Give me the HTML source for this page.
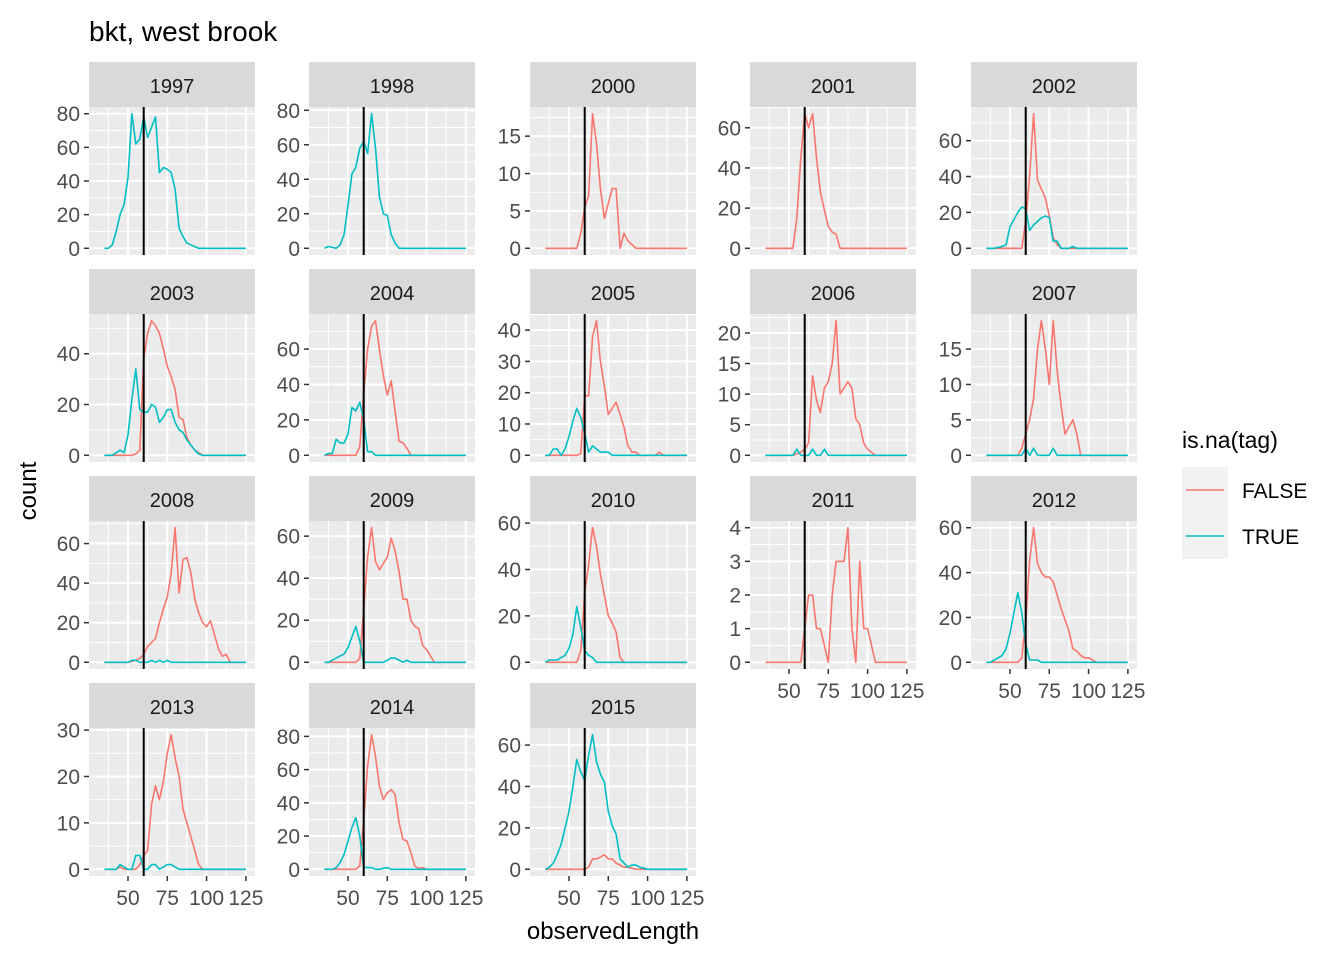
<!DOCTYPE html>
<html><head><meta charset="utf-8"><style>
body{margin:0;background:#fff;}
svg{display:block;font-family:"Liberation Sans",Arial,sans-serif;}
</style></head><body>
<svg id="chart" width="1344" height="960" viewBox="0 0 1344 960">
<rect width="1344" height="960" fill="#fff"/>
<text x="89" y="41" font-size="28" fill="#000">bkt, west brook</text>
<text x="0" y="0" font-size="24" fill="#000" text-anchor="middle" transform="translate(36,491) rotate(-90)">count</text>
<text x="613" y="939" font-size="24" fill="#000" text-anchor="middle">observedLength</text>
<g>
<text x="1182" y="448" font-size="23" fill="#000">is.na(tag)</text>
<rect x="1182" y="467" width="46" height="46" fill="#f2f2f2"/>
<line x1="1186" y1="490" x2="1224" y2="490" stroke="#F8766D" stroke-width="1.6"/>
<rect x="1182" y="513" width="46" height="46" fill="#f2f2f2"/>
<line x1="1186" y1="536" x2="1224" y2="536" stroke="#00BFC4" stroke-width="1.6"/>
<text x="1242" y="498" font-size="21" fill="#000">FALSE</text>
<text x="1242" y="544" font-size="21" fill="#000">TRUE</text>
</g>
<g id="panels"></g>
</svg>
<script>
const years = ["1997","1998","2000","2001","2002","2003","2004","2005","2006","2007","2008","2009","2010","2011","2012","2013","2014","2015"];
const xStart = 35, xStep = 2.5, nBins = 37;
const xTicks = [50,75,100,125];
const xDomain = [25.2,130.8];
const cutoff = 60;
const yTickSteps = [20,20,5,20,20,20,20,10,5,5,20,20,20,1,20,10,20,20];

const t1997 = [0,0,2,10,20,26,42,80,62,65,78,66,72,78,45,48,47,45,35,12,7,3,2,1,0];
const t1998 = [0,1,0.5,0,2,8,25,43,47,58,62,55,78,58,30,20,19,8,3,0];
const f2000 = [0,0,0,0,0,0,0,0,0,2,5.5,7,18,14,8,4,6,8,8,0,2,1,0.5,0];
const f2001 = [0,0,0,0,0,0,0,0,15,45,67,60,67,45,28,19,11,8,7,0];
const f2002 = [0,0,0,0,0,0,0,0,0,0,15,40,75,38,33,28,18,6,2,0];
const t2002 = [0,0,0,0.5,1,2,12,16,20,23,22,10,13,15,17,18,17,4,4,0,0,0,1,0];
const f2003 = [0,0,0,0,0,0,0,0,0.5,2,38,48,53,51,48,42,35,31,26,15,14,7,4,2,1,0];
const t2003 = [0,0,0,1,2,1,8,22,34,18,17,17,20,19,13,15,18,18,13,10,9,6,4,2,0.5,0];
const f2004 = [0,0,0,0,0,0,0,0,0,5,35,60,73,76,60,45,34,42,25,8,7,4,0];
const t2004 = [0,1,1,9,7,7,12,27,25,30,20,2,2,0];
const f2005 = [0,0,0,0,0,0,0,0,0,0.5,19,19,38,43,30,22,13,15,17,13,9,3,1,1,0,0,0,0,0,1,0];
const t2005 = [0,0,2,2,0,2,6,11,15,12,7,1,3,2,1,1,1,0];
const f2006 = [0,0,0,0,0,0,0,0,0.2,0.5,1,2,13,9,7,11,12,15,22,10,11,12,11,6,5,2,1,0.5,0];
const t2006 = [0,0,0,0,0,0,0,0,1,0,0,0,1,0,0,1,0];
const f2007 = [0,0,0,0,0,0,0,0,0,1,3,5,8,15,19,15,10,19,12,7,3,4,5,3,0];
const t2007 = [0,0,0,0,0,0,0,0,0,0,1,0,1,0,0,0,0,1,0];
const f2008 = [0,0,0,0,0,0,0,0.5,1,2,4,8,10,12,20,27,33,45,68,35,52,53,45,32,25,20,18,21,14,7,3,4,0];
const t2008 = [0,0,0,0,0,0,0,1,1,0,0,0,1,0,1,0,1,0];
const f2009 = [0,0,0,0,0,0,0,0,0,2,25,50,64,48,44,47,50,59,53,43,30,30,20,17,16,8,6,3,0];
const t2009 = [0,0,1,2,3,4,7,12,17,10,0,0,0,0,0,0,1,2,2,1,0,1,0];
const f2010 = [0,0,0,0,0,0,0,0,0,5,30,42,58,50,38,29,20,17,13,2,0];
const t2010 = [0,1,1,1,2,3,6,12,24,15,5,3,2,0];
const f2011 = [0,0,0,0,0,0,0,0,0,0,1,2,2,1,1,0.5,0,2,3,3,3,4,1,0,3,1,1,0.5,0];
const f2012 = [0,0,0,0,0,0,0,0,0,2,18,45,60,44,40,38,38,36,30,24,19,14,6,5,3,2,2,1,0];
const t2012 = [0,0,1,2,3,6,13,22,31,22,8,1,1,1,0];
const f2013 = [0,0,0,0,0.5,0,0,0,0,1,3,4,14,18,15,19,25,29,24,20,13,10,7,4,1,0];
const t2013 = [0,0,0,0,1,0.5,0,0,3,3,0,0,1,1,0,0.5,1,1,0.5,0];
const f2014 = [0,0,0,0,0,0,0,0,0,2,30,62,81,68,50,42,46,48,45,28,18,17,10,2,0.5,1,0];
const t2014 = [0,0,0,1,4,9,17,25,31,20,1,1,1,0,0,0.5,1,0];
const f2015 = [0,0,0,0,0,0,0,0,0,0,0,1,5,5,6,7,5,5,3,2,1,1,0.5,0];
const t2015 = [0,1,3,7,12,20,28,40,53,47,43,55,65,52,46,42,28,21,17,5,3,1,2,2,1,0.5,0];

const falseSeries = [null,null,f2000,f2001,f2002,f2003,f2004,f2005,f2006,f2007,f2008,f2009,f2010,f2011,f2012,f2013,f2014,f2015];
const trueSeries = [t1997,t1998,null,null,t2002,t2003,t2004,t2005,t2006,t2007,t2008,t2009,t2010,null,t2012,t2013,t2014,t2015];

const NS = "http://www.w3.org/2000/svg";
const root = document.getElementById("panels");
const colLeft = [89,309,530,750,971];
const rowTop = [62,269,476,683];
const panelW = 166, stripH = 45, panelH = 148;

function mk(tag, attrs, parent){
  const e = document.createElementNS(NS, tag);
  for (const k in attrs) e.setAttribute(k, attrs[k]);
  parent.appendChild(e);
  return e;
}
function pad(a){ const r = a.slice(); while (r.length < nBins) r.push(0); return r; }

years.forEach((yr, i) => {
  const col = i % 5, row = Math.floor(i / 5);
  const L = colLeft[col], T0 = rowTop[row], top = T0 + stripH, bot = top + panelH;
  const g = mk("g", {}, root);
  
  
  const sx = v => L + (v - xDomain[0]) / (xDomain[1] - xDomain[0]) * panelW;
  const fs = falseSeries[i] ? pad(falseSeries[i]) : null;
  const ts = trueSeries[i] ? pad(trueSeries[i]) : null;
  let m = 0;
  [fs, ts].forEach(s => { if (s) s.forEach(v => { if (v > m) m = v; }); });
  const y0 = -0.05 * m, y1 = 1.05 * m;
  const sy = v => bot - (v - y0) / (y1 - y0) * panelH;

  const strip = mk("rect", {x:L, y:T0, width:panelW, height:stripH, fill:"#d9d9d9"}, g);
  
  
  const st = mk("text", {x:L + panelW/2, y:T0 + 31, "font-size":20, fill:"#1a1a1a", "text-anchor":"middle"}, g);
  st.textContent = yr;
  
  
  mk("rect", {x:L, y:top, width:panelW, height:panelH, fill:"#ebebeb"}, g);

  const step = yTickSteps[i];
  for (let v = step/2; v < y1; v += step) { if (v > y0) mk("line", {x1:L, x2:L+panelW, y1:sy(v), y2:sy(v), stroke:"#fff", "stroke-width":1}, g); }
  [37.5,62.5,87.5,112.5].forEach(v => mk("line", {x1:sx(v), x2:sx(v), y1:top, y2:bot, stroke:"#fff", "stroke-width":1}, g));
  for (let v = 0; v <= y1; v += step) {
    const yy = sy(v);
    mk("line", {x1:L, x2:L+panelW, y1:yy, y2:yy, stroke:"#fff", "stroke-width":2}, g);
    mk("line", {x1:L-5, x2:L, y1:yy, y2:yy, stroke:"#333", "stroke-width":1.5}, g);
    const tl = mk("text", {x:L-9, y:yy+7.5, "font-size":21, fill:"#4d4d4d", "text-anchor":"end"}, g);
    tl.textContent = String(v);
    
    
  }
  xTicks.forEach(v => mk("line", {x1:sx(v), x2:sx(v), y1:top, y2:bot, stroke:"#fff", "stroke-width":2}, g));
  const showX = (row === 3) || (row === 2 && col >= 3);
  if (showX) {
    xTicks.forEach(v => {
      mk("line", {x1:sx(v), x2:sx(v), y1:bot, y2:bot+5, stroke:"#333", "stroke-width":1.5}, g);
      const tl = mk("text", {x:sx(v), y:bot+29, "font-size":21, fill:"#4d4d4d", "text-anchor":"middle"}, g);
      tl.textContent = String(v);
      
      
    });
  }
  function line(s, color, name){
    const pts = s.map((v, k) => sx(xStart + k * xStep).toFixed(1) + "," + sy(v).toFixed(1)).join(" ");
    const p = mk("polyline", {points:pts, fill:"none", stroke:color, "stroke-width":1.6, "stroke-linejoin":"round"}, g);
    
    
  }
  if (fs) line(fs, "#F8766D", 'series-false-' + yr);
  if (ts) line(ts, "#00BFC4", 'series-true-' + yr);
  const vl = mk("line", {x1:sx(cutoff), x2:sx(cutoff), y1:top, y2:bot, stroke:"#000", "stroke-width":2}, g);
  
  
});
</script>
</body></html>
